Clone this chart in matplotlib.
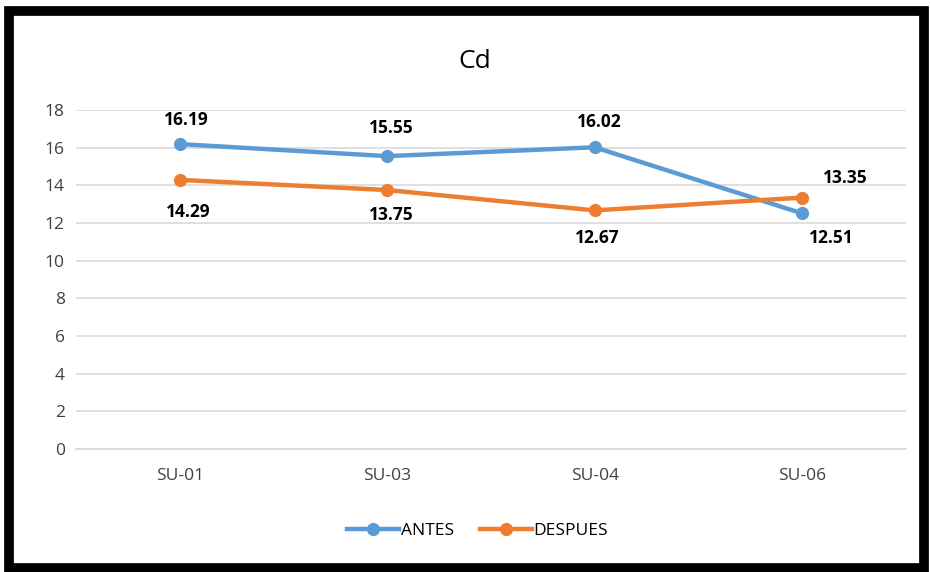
import matplotlib.pyplot as plt
from matplotlib.patches import Rectangle

categories = ["SU-01", "SU-03", "SU-04", "SU-06"]
antes = [16.19, 15.55, 16.02, 12.51]
despues = [14.29, 13.75, 12.67, 13.35]
yticks = [0, 2, 4, 6, 8, 10, 12, 14, 16, 18]

plt.rcParams['font.family'] = ['Open Sans', 'DejaVu Sans']

blue = "#5B9BD5"
orange = "#ED7D31"

fig = plt.figure(figsize=(9.31, 5.72), dpi=100)
ax = fig.add_axes([0.0816, 0.215, 0.8914, 0.5927])

x = range(len(categories))
ax.plot(x, antes, color=blue, lw=3.2, marker="o", ms=8.5, label="ANTES", zorder=3)
ax.plot(x, despues, color=orange, lw=3.2, marker="o", ms=8.5, label="DESPUES", zorder=3)

# data labels
antes_off = [(5, 17), (3, 20), (3, 18), (21, -18)]
despues_off = [(6, -23), (3, -18), (2, -20), (31, 14)]
for i, v in enumerate(antes):
    ax.annotate(f"{v:.2f}", (i, v), xytext=antes_off[i], textcoords="offset points",
                ha="center", va="center", fontsize=12.5, fontweight="bold", color="black")
for i, v in enumerate(despues):
    ax.annotate(f"{v:.2f}", (i, v), xytext=despues_off[i], textcoords="offset points",
                ha="center", va="center", fontsize=12.5, fontweight="bold", color="black")

ax.set_xlim(-0.5, 3.5)
ax.set_ylim(0, 18)
ax.set_yticks(yticks)
ax.set_xticks(list(x))
ax.set_xticklabels(categories)
ax.grid(axis="y", color="#D9D9D9", lw=1.2)
ax.set_axisbelow(True)
for s in ["top", "right", "left"]:
    ax.spines[s].set_visible(False)
ax.spines["bottom"].set_color("#D9D9D9")
ax.spines["bottom"].set_linewidth(1.2)
ax.tick_params(axis="both", length=0, labelsize=12.5, colors="#404040", pad=8)
ax.tick_params(axis="x", pad=14)

fig.text(0.51, 0.893, "Cd", ha="center", va="center", fontsize=19, color="black")

fig.legend(loc="center", bbox_to_anchor=(0.513, 0.072), ncol=2, frameon=False,
           fontsize=12.5, handlelength=3, columnspacing=1.5, handletextpad=0.1)

fig.patches.append(Rectangle((9 / 931, 4 / 572), 915 / 931, 557 / 572, transform=fig.transFigure,
                             fill=False, edgecolor="black", lw=7, zorder=10))

fig.savefig("out.png", dpi=100)
